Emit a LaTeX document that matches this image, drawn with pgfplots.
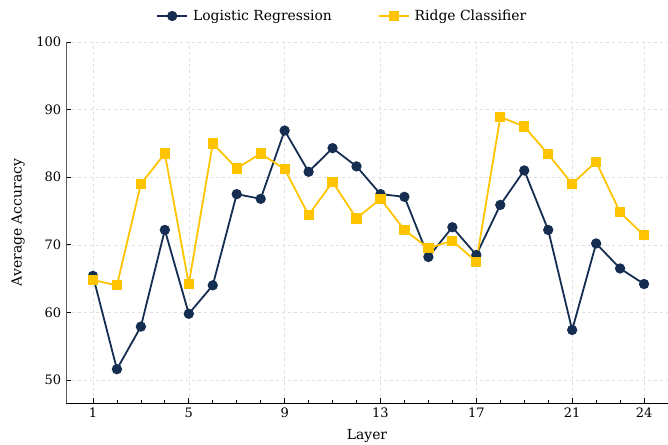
\documentclass[border=0pt]{standalone}
\usepackage{fontspec}
\setmainfont{DejaVu Serif}
\usepackage{pgfplots}
\pgfplotsset{compat=1.18}
\definecolor{navy}{RGB}{20,45,80}
\definecolor{gold}{RGB}{255,196,0}
\begin{document}
\fontsize{13.9pt}{16pt}\selectfont
\begin{tikzpicture}[x=1pt,y=1pt]
\begin{axis}[
  at={(0,0)}, anchor=south west,
  scale only axis, width=602pt, height=361pt,
  xmin=-0.125, xmax=25, ymin=46.6, ymax=100,
  axis x line*=bottom, axis y line*=left,
  x axis line style={-, line width=0.9pt, black},
  y axis line style={-, line width=0.9pt, black!65},
  tick align=inside,
  xtick={1,5,9,13,17,21,24},
  minor xtick={2,3,4,6,7,8,10,11,12,14,15,16,18,19,20,22,23},
  ytick={50,60,70,80,90,100},
  major tick length=5pt, minor tick length=3pt,
  tick style={line width=0.7pt, black},
  grid=major,
  major grid style={dashed, gray!25, line width=0.5pt},
  /pgf/number format/assume math mode=true,
  ticklabel style={font=\fontsize{13pt}{15pt}\selectfont},
  label style={font=\fontsize{13.9pt}{16pt}\selectfont},
  xlabel={Layer}, ylabel={Average Accuracy},
  xlabel style={at={(axis description cs:0.5,0)}, anchor=center, yshift=-33pt},
  ylabel style={at={(axis description cs:0,0.5)}, anchor=center, yshift=48pt, rotate=0},
  legend columns=2,
  legend style={draw=none, fill=none, at={(axis description cs:0.459,1.072)}, anchor=center,
    font=\fontsize{13.9pt}{16pt}\selectfont,
    /tikz/every even column/.append style={column sep=44pt},
    /tikz/every odd column/.append style={column sep=3pt}},
  legend image code/.code={\draw[mark repeat=2,mark phase=2] plot coordinates {(0pt,0pt) (15pt,0pt) (30pt,0pt)};},
  clip=false,
]
\addplot[navy, line width=1.8pt, mark=*, mark size=4.2pt, mark options={solid, fill=navy}] coordinates {
(1,65.4) (2,51.6) (3,57.9) (4,72.2) (5,59.8) (6,64.0) (7,77.5) (8,76.8) (9,86.9) (10,80.8) (11,84.3) (12,81.6)
(13,77.5) (14,77.1) (15,68.2) (16,72.6) (17,68.5) (18,75.9) (19,81.0) (20,72.2) (21,57.4) (22,70.2) (23,66.5) (24,64.2)};
\addlegendentry{Logistic Regression}
\addplot[gold, line width=1.8pt, mark=square*, mark size=4.2pt, mark options={solid, fill=gold}] coordinates {
(1,64.8) (2,64.0) (3,79.0) (4,83.5) (5,64.2) (6,85.0) (7,81.3) (8,83.5) (9,81.2) (10,74.4) (11,79.3) (12,73.9)
(13,76.8) (14,72.2) (15,69.5) (16,70.6) (17,67.5) (18,88.9) (19,87.5) (20,83.4) (21,79.0) (22,82.3) (23,74.8) (24,71.4)};
\addlegendentry{Ridge Classifier}
\end{axis}
\pgfresetboundingbox
\path[use as bounding box] (-66pt,-41pt) rectangle (602pt,403pt);
\end{tikzpicture}
\end{document}
